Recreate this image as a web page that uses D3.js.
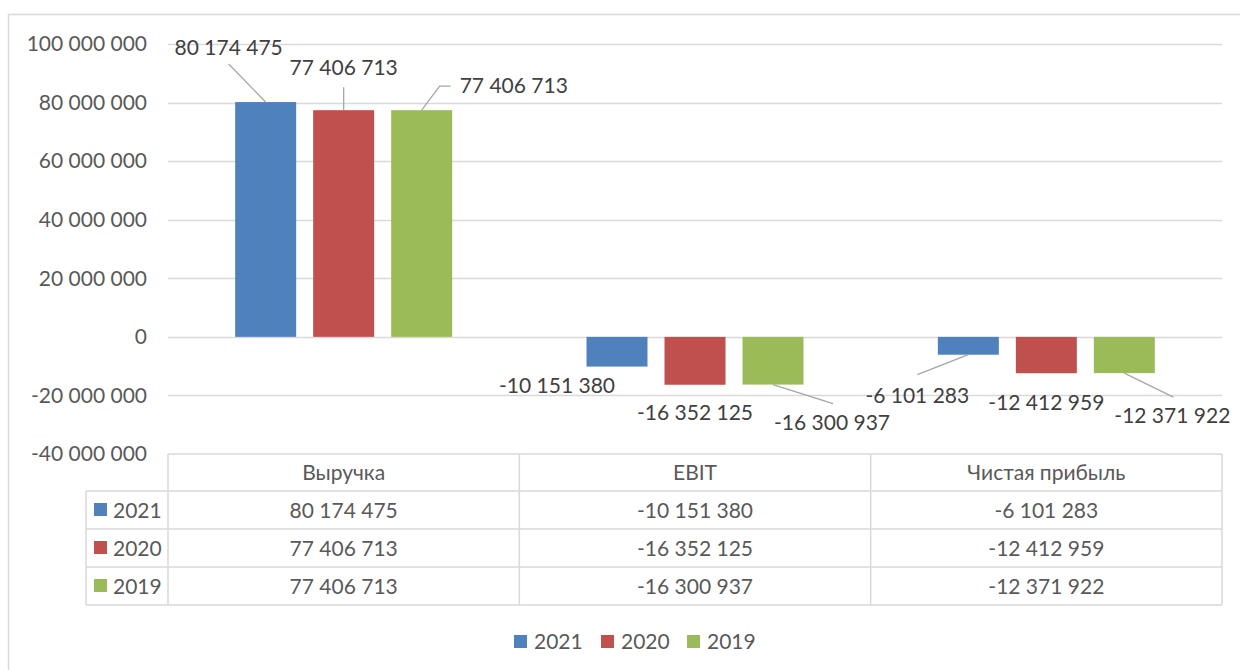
<!DOCTYPE html>
<html>
<head>
<meta charset="utf-8">
<script src="https://cdn.jsdelivr.net/npm/d3@7"></script>
<style>
  body { margin: 0; background: #fff; }
  text { font-family: Lato, "Open Sans", sans-serif; fill: #595959; }
</style>
</head>
<body>
<div id="chart"></div>
<script>
var width = 1240, height = 670;

// data
var categories = ["Выручка", "EBIT", "Чистая прибыль"];
var years = ["2021", "2020", "2019"];
var v2021 = [80174475, -10151380, -6101283];
var v2020 = [77406713, -16352125, -12412959];
var v2019 = [77406713, -16300937, -12371922];
var yTicks = [-40000000, -20000000, 0, 20000000, 40000000, 60000000, 80000000, 100000000];
var colors = ["#4F81BD", "#C0504D", "#9BBB59"];

var series = [v2021, v2020, v2019];

// label placement (offset from bar centre / bar end), leader line points relative to same
// [dx, dy, anchor, leader]
var labelPos = [
  [[-37, -47, "middle", [[0, 0], [-37, -38]]], [-60, 26, "middle", null], [-51, 48, "middle", [[0, 0], [-51, 20]]]],
  [[0, -35, "middle", [[0, 0], [0, -23]]], [0, 35, "middle", null], [0, 37, "middle", null]],
  [[38, -17, "start", [[0, 0], [18, -24], [29, -24]]], [59, 45, "middle", [[0, 0], [60, 19]]], [48, 50, "middle", [[0, 0], [49, 24]]]]
];

var fmt = d3.formatLocale({decimal: ",", thousands: " ", grouping: [3], currency: ["", ""], minus: "-"}).format(",");

var svg = d3.select("#chart").append("svg")
    .attr("width", width)
    .attr("height", height);

// chart border
svg.append("rect")
    .attr("x", 8.5).attr("y", 14.5)
    .attr("width", 1260).attr("height", 700)
    .attr("fill", "none").attr("stroke", "#D9D9D9").attr("stroke-width", 1.5);

var plotL = 168, plotR = 1222;

var y = d3.scaleLinear().domain([-40000000, 100000000]).range([454, 44]);
var x = d3.scaleBand().domain(categories).range([plotL, plotR]);
var gw = 217;
var x1 = d3.scaleBand().domain(years)
    .range([(x.bandwidth() - gw) / 2, (x.bandwidth() + gw) / 2])
    .paddingInner(17 / 78);

// gridlines
svg.append("g").selectAll("line")
  .data(yTicks.slice(1))
  .enter().append("line")
    .attr("x1", plotL).attr("x2", plotR)
    .attr("y1", function(d) { return Math.round(y(d)) + 0.5; })
    .attr("y2", function(d) { return Math.round(y(d)) + 0.5; })
    .attr("stroke", "#D9D9D9").attr("stroke-width", 1.5);

// y axis labels
var yAxis = svg.append("g")
    .attr("transform", "translate(" + 147 + ",0)")
    .call(d3.axisLeft(y).tickValues(yTicks).tickSize(0).tickPadding(0).tickFormat(fmt));
yAxis.select(".domain").remove();
yAxis.selectAll("text")
    .attr("fill", "#595959")
    .style("font-family", "Lato, sans-serif")
    .style("font-size", "21px");

// bars
years.forEach(function(yr, s) {
  svg.append("g").selectAll("rect")
    .data(series[s])
    .enter().append("rect")
      .attr("x", function(d, i) { return x(categories[i]) + x1(yr); })
      .attr("width", x1.bandwidth())
      .attr("y", function(d) { return y(Math.max(0, d)); })
      .attr("height", function(d) { return Math.abs(y(d) - y(0)); })
      .attr("fill", colors[s]);
});

// data labels + leader lines
years.forEach(function(yr, s) {
  series[s].forEach(function(v, i) {
    var cx = x(categories[i]) + x1(yr) + x1.bandwidth() / 2;
    var ey = y(v);
    var p = labelPos[s][i];
    if (p[3]) {
      svg.append("path")
        .attr("d", d3.line()(p[3].map(function(q) { return [cx + q[0], ey + q[1]]; })))
        .attr("fill", "none").attr("stroke", "#A6A6A6").attr("stroke-width", 1.3);
    }
    svg.append("text")
      .attr("x", cx + p[0])
      .attr("y", ey + p[1])
      .attr("text-anchor", p[2])
      .style("font-size", "21px")
      .style("fill", "#404040")
      .text(fmt(v));
  });
});

// data table
var rowTop = [454, 491, 529, 567, 605];
var tbl = svg.append("g");
var gridC = "#D9D9D9";
function hline(x1_, x2_, yy) {
  tbl.append("line").attr("x1", x1_).attr("x2", x2_).attr("y1", yy).attr("y2", yy)
    .attr("stroke", gridC).attr("stroke-width", 1.5);
}
function vline(xx, y1_, y2_) {
  tbl.append("line").attr("x1", xx).attr("x2", xx).attr("y1", y1_).attr("y2", y2_)
    .attr("stroke", gridC).attr("stroke-width", 1.5);
}
hline(plotL, plotR, rowTop[0]);
for (var r = 1; r < rowTop.length; r++) hline(86, plotR, rowTop[r]);
vline(86, rowTop[1], rowTop[4]);
vline(plotL, rowTop[0], rowTop[4]);
categories.forEach(function(c) { vline(x(c) + x.bandwidth(), rowTop[0], rowTop[4]); });

tbl.selectAll(".hdr")
  .data(categories)
  .enter().append("text")
    .attr("x", function(d) { return x(d) + x.bandwidth() / 2; })
    .attr("y", (rowTop[0] + rowTop[1]) / 2 + 7)
    .attr("text-anchor", "middle")
    .style("font-size", "21px")
    .text(function(d) { return d; });

years.forEach(function(yr, s) {
  var cy = (rowTop[s + 1] + rowTop[s + 2]) / 2;
  tbl.append("rect")
    .attr("x", 94).attr("y", cy - 7).attr("width", 13).attr("height", 13)
    .attr("fill", colors[s]);
  tbl.append("text")
    .attr("x", 113).attr("y", cy + 7.5)
    .style("font-size", "21px")
    .text(yr);
  series[s].forEach(function(v, i) {
    tbl.append("text")
      .attr("x", x(categories[i]) + x.bandwidth() / 2)
      .attr("y", cy + 7.5)
      .attr("text-anchor", "middle")
      .style("font-size", "21px")
      .text(fmt(v));
  });
});

// legend
var legX = [514, 601, 687];
var leg = svg.append("g");
years.forEach(function(yr, s) {
  leg.append("rect")
    .attr("x", legX[s]).attr("y", 635).attr("width", 13).attr("height", 13)
    .attr("fill", colors[s]);
  leg.append("text")
    .attr("x", legX[s] + 20).attr("y", 649)
    .style("font-size", "21px")
    .text(yr);
});
</script>
</body>
</html>
